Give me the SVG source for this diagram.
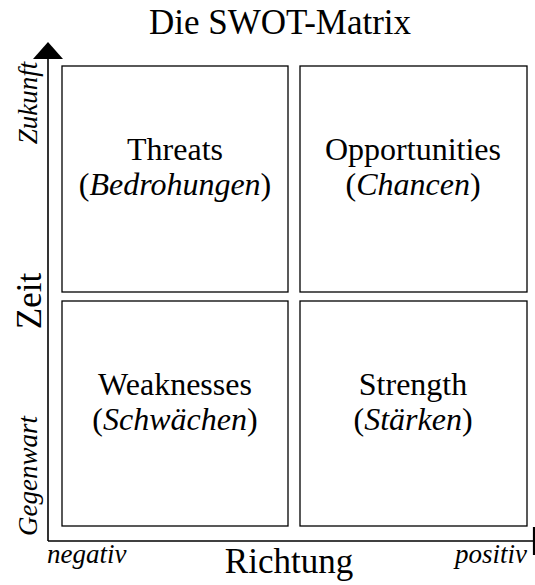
<svg xmlns="http://www.w3.org/2000/svg" width="535" height="585" viewBox="0 0 535 585">
  <style>
    text { font-family: "Liberation Serif", "Times New Roman", serif; fill: #000; }
    .quad { fill: #fff; stroke: #000; stroke-width: 1.3; }
    .axis { stroke: #000; stroke-width: 1.6; fill: none; }
    .lbl { font-size: 32px; text-anchor: middle; }
    .small { font-size: 27px; font-style: italic; }
    .big { font-size: 35px; text-anchor: middle; }
  </style>
  <rect width="535" height="585" fill="#fff"/>

  <text class="big" x="280" y="34" font-size="36">Die SWOT-Matrix</text>

  <g id="axes">
    <line class="axis" x1="48" y1="56" x2="48" y2="541"/>
    <line class="axis" x1="48" y1="541" x2="534" y2="541"/>
    <polygon points="48,42 33,59 63,59" fill="#000"/>
    <line x1="534" y1="527" x2="534" y2="555" stroke="#000" stroke-width="2.2"/>
  </g>

  <g id="threats">
    <rect class="quad" x="62" y="66" width="226" height="226"/>
    <text class="lbl" x="175" y="160">Threats</text>
    <text class="lbl" x="175" y="195">(<tspan font-style="italic">Bedrohungen</tspan>)</text>
  </g>
  <g id="opportunities">
    <rect class="quad" x="300" y="66" width="227" height="226"/>
    <text class="lbl" x="413" y="160">Opportunities</text>
    <text class="lbl" x="413" y="195">(<tspan font-style="italic">Chancen</tspan>)</text>
  </g>
  <g id="weaknesses">
    <rect class="quad" x="62" y="301" width="226" height="225"/>
    <text class="lbl" x="175" y="395">Weaknesses</text>
    <text class="lbl" x="175" y="430">(<tspan font-style="italic">Schwächen</tspan>)</text>
  </g>
  <g id="strength">
    <rect class="quad" x="300" y="301" width="227" height="225"/>
    <text class="lbl" x="413" y="395">Strength</text>
    <text class="lbl" x="413" y="430">(<tspan font-style="italic">Stärken</tspan>)</text>
  </g>

  <g id="axis-labels">
    <text class="big" transform="translate(41,301) rotate(-90)">Zeit</text>
    <text class="small" text-anchor="middle" transform="translate(37,103) rotate(-90)">Zukunft</text>
    <text class="small" text-anchor="middle" font-size="28" transform="translate(37,476) rotate(-90)">Gegenwart</text>
    <text class="big" x="289" y="573" font-size="31">Richtung</text>
    <text class="small" x="47" y="563">negativ</text>
    <text class="small" x="527" y="563" text-anchor="end">positiv</text>
  </g>
</svg>
